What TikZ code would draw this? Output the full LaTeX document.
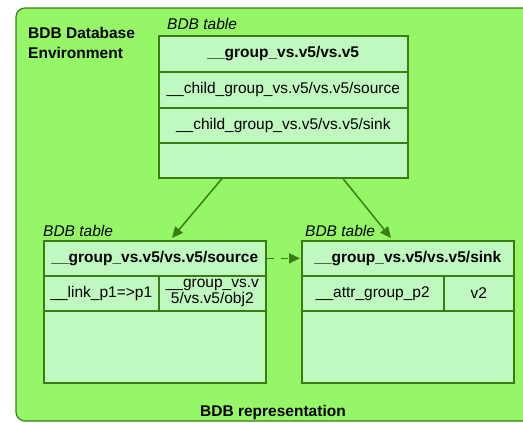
\documentclass[tikz,border=0pt]{standalone}
\usepackage{fontspec}
\setmainfont{Liberation Sans}
\usetikzlibrary{arrows.meta,calc}
\definecolor{envgreen}{HTML}{95F767}
\definecolor{cellgreen}{HTML}{C0F9C0}
\definecolor{edgegreen}{HTML}{3A7D14}
\begin{document}
\begin{tikzpicture}[x=1pt,y=-1pt,
  cell/.style={draw=edgegreen, fill=cellgreen, line width=1.6pt, inner sep=0pt, anchor=north west,
    font=\fontsize{15.5}{16}\selectfont, align=center},
  hdr/.style={cell, font=\fontsize{15.5}{18}\selectfont\bfseries},
  lbl/.style={font=\fontsize{15.5}{18}\selectfont\itshape, anchor=west, inner sep=0pt},
  title/.style={font=\fontsize{15.5}{20}\selectfont\bfseries, inner sep=0pt},
  conn/.style={draw=edgegreen, line width=1.5pt, -{Triangle[length=11pt,width=10pt]}},
]
\useasboundingbox (0,0) rectangle (523,423);
\clip (0,0) rectangle (523,423);
\draw[fill=envgreen, draw=edgegreen, line width=1.2pt, rounded corners=9pt] (16,8) rectangle (560,421);

\node[title, anchor=west, align=left] (env) at (28,43) {BDB Database\\Environment};
\node[title] (rep) at (273,412) {BDB representation};

% top table
\node[lbl] (tl) at (167,24) {BDB table};
\node[hdr, minimum width=249pt, minimum height=36pt] (t1) at (158,35) {\_\_group\_vs.v5/vs.v5};
\node[cell, minimum width=249pt, minimum height=36pt] (t2) at (158,71) {\_\_child\_group\_vs.v5/vs.v5/source};
\node[cell, minimum width=249pt, minimum height=35pt] (t3) at (158,107) {\_\_child\_group\_vs.v5/vs.v5/sink};
\node[cell, minimum width=249pt, minimum height=35pt] (t4) at (158,142) {};

% source table
\node[lbl] (sl) at (43,231) {BDB table};
\node[hdr, minimum width=222pt, minimum height=35pt] (s1) at (43,240) {\_\_group\_vs.v5/vs.v5/source};
\node[cell, minimum width=115pt, minimum height=35pt] (s2a) at (43,275) {\_\_link\_p1=>p1};
\node[cell, minimum width=107pt, minimum height=35pt] (s2b) at (158,275) {\_\_group\_vs.v\\5/vs.v5/obj2};
\node[cell, minimum width=222pt, minimum height=72pt] (s3) at (43,310) {};

% sink table
\node[lbl] (kl) at (305,231) {BDB table};
\node[hdr, minimum width=212pt, minimum height=35pt] (k1) at (301,240) {\_\_group\_vs.v5/vs.v5/sink};
\node[cell, minimum width=142pt, minimum height=35pt] (k2a) at (301,275) {\_\_attr\_group\_p2};
\node[cell, minimum width=70pt, minimum height=35pt] (k2b) at (443,275) {v2};
\node[cell, minimum width=212pt, minimum height=72pt] (k3) at (301,310) {};

% connectors
\draw[conn] ($(t4.south west)+(64,0)$) -- ($(s1.north west)+(129,-2)$);
\draw[conn] ($(t4.south west)+(185,0)$) -- ($(k1.north west)+(90,-2)$);
\draw[conn, dash pattern=on 7pt off 7pt] (s1.east) -- ($(k1.west)+(-1,0)$);
\end{tikzpicture}
\end{document}
